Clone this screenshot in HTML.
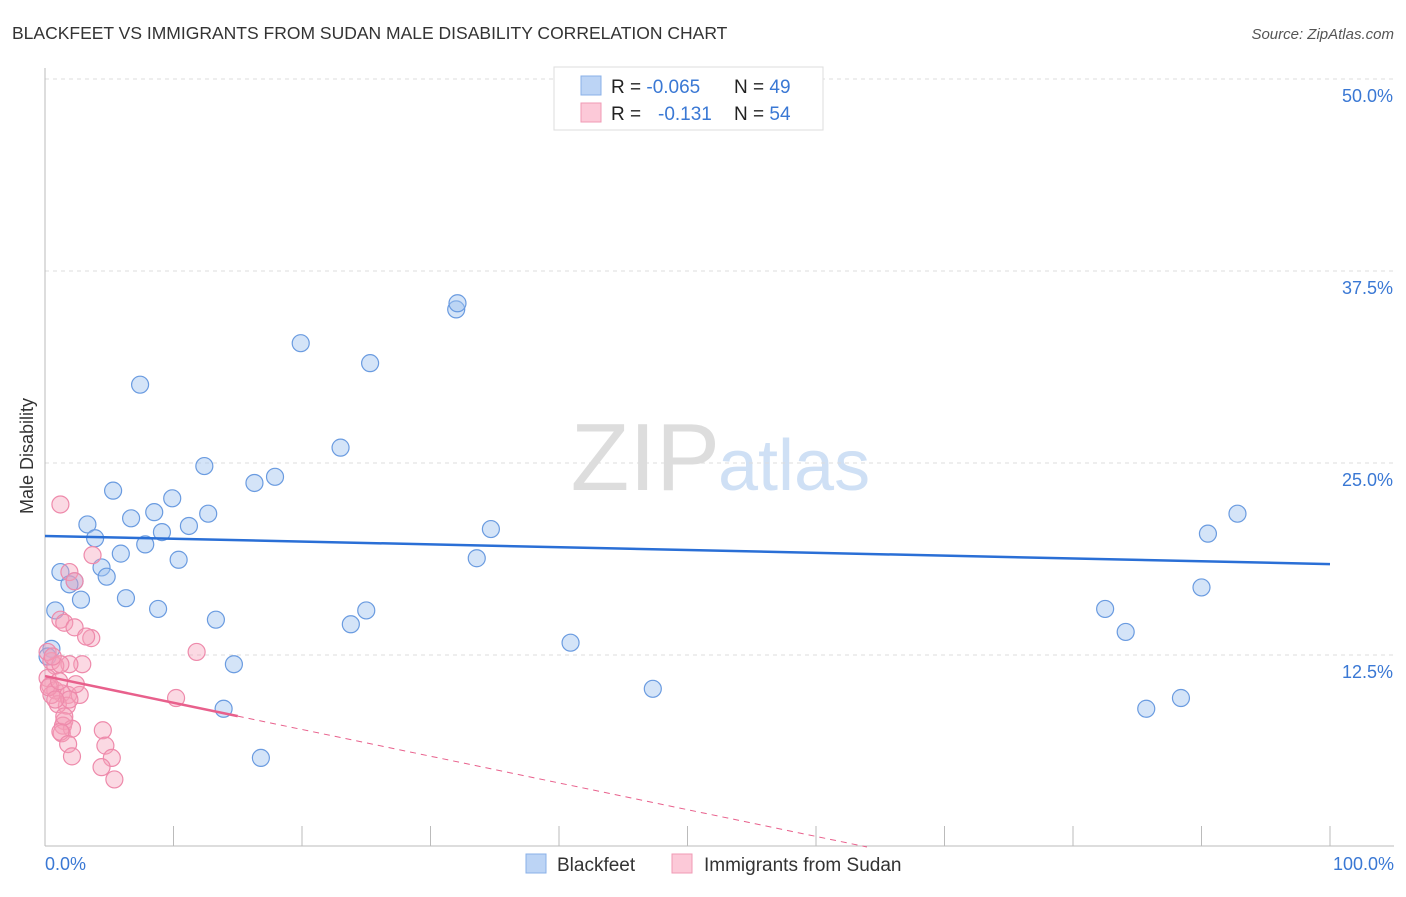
<!DOCTYPE html>
<html><head><meta charset="utf-8"><style>
body{margin:0;background:#fff;font-family:"Liberation Sans",sans-serif;}
svg text{font-family:"Liberation Sans",sans-serif;}
</style></head><body>
<svg width="1406" height="892" xmlns="http://www.w3.org/2000/svg">
<text x="12" y="39" font-size="17.5" fill="#333">BLACKFEET VS IMMIGRANTS FROM SUDAN MALE DISABILITY CORRELATION CHART</text>
<text x="1394" y="39" font-size="15" fill="#555" font-style="italic" text-anchor="end">Source: ZipAtlas.com</text>
<text x="33" y="456" font-size="18" fill="#333" text-anchor="middle" transform="rotate(-90 33 456)">Male Disability</text>
<text x="720" y="490" font-size="96" fill="#ddd" text-anchor="end" font-family="Liberation Serif">ZIP</text>
<text x="718" y="490" font-size="72" fill="#cfe0f5">atlas</text>
<g id="grid"></g><g id="axes"></g><g id="pts"></g><g id="lines"></g>
<g>
<rect x="554" y="67" width="269" height="63" fill="#fff" stroke="#ddd"/>
<rect x="581" y="76" width="20" height="19" fill="#bcd4f5" stroke="#8ab0e8"/>
<rect x="581" y="103" width="20" height="19" fill="#fcc9d8" stroke="#f09ab5"/>
<text x="611" y="93" font-size="19" fill="#222">R = <tspan fill="#3a78d4">-0.065</tspan></text>
<text x="734" y="93" font-size="19" fill="#222">N = <tspan fill="#3a78d4">49</tspan></text>
<text x="611" y="120" font-size="19" fill="#222">R = <tspan x="658" fill="#3a78d4">-0.131</tspan></text>
<text x="734" y="120" font-size="19" fill="#222">N = <tspan fill="#3a78d4">54</tspan></text>
</g>
<g>
<rect x="526" y="854" width="20" height="19" fill="#bcd4f5" stroke="#8ab0e8"/>
<text x="557" y="871" font-size="19" fill="#333">Blackfeet</text>
<rect x="672" y="854" width="20" height="19" fill="#fcc9d8" stroke="#f09ab5"/>
<text x="704" y="871" font-size="19" fill="#333">Immigrants from Sudan</text>
</g>
</svg>
<script>
const yTicks=[12.5,25,37.5,50];
const yTickLabels=["12.5%","25.0%","37.5%","50.0%"];
const blackX=[7.4,19.9,25.3,32,32.1,23,12.4,17.9,16.3,5.3,9.9,8.5,12.7,6.7,3.3,11.2,9.1,3.9,7.8,5.9,10.4,4.4,1.2,4.8,2.3,1.9,2.8,6.3,0.8,8.8,13.3,25,23.8,14.7,13.9,16.8,34.7,33.6,40.9,47.3,92.8,90.5,90,82.5,84.1,85.7,88.4,50.0,0.5,0.2];
const blackY=[30.1,32.8,31.5,35,35.4,26,24.8,24.1,23.7,23.2,22.7,21.8,21.7,21.4,21,20.9,20.5,20.1,19.7,19.1,18.7,18.2,17.9,17.6,17.3,17.1,16.1,16.2,15.4,15.5,14.8,15.4,14.5,11.9,9,5.8,20.7,18.8,13.3,10.3,21.7,20.4,16.9,15.5,14,9,9.7,50.1,12.9,12.4];
const sudanX=[1.2,3.7,1.9,2.3,1.2,1.5,2.3,3.6,3.2,11.8,2.9,1.9,0.5,0.8,0.2,0.4,0.8,1.3,1.8,2.7,1.7,1,0.5,1.5,1.4,2.1,1.3,1.2,1.8,2.1,4.5,4.7,5.2,4.4,5.4,10.2,1.9,0.3,0.8,1.2,0.2,0.6,1.1,2.4,1.5];
const sudanY=[22.3,19,17.9,17.3,14.8,14.6,14.3,13.6,13.7,12.7,11.9,11.9,12.1,11.8,11,10.5,10.2,10,9.9,9.9,9.2,9.3,9.9,8.2,7.9,7.7,7.4,7.5,6.7,5.9,7.6,6.6,5.8,5.2,4.4,9.7,9.6,10.4,9.6,11.9,12.7,12.4,10.8,10.6,8.5];
const blackTrend=[20.25,18.42];
const sudanTrend=[11.13,-0.174];
const NS="http://www.w3.org/2000/svg";
const X=v=>45+v*12.85, Y=v=>847-v*15.36;
function mk(t,a,p){const e=document.createElementNS(NS,t);for(const k in a)e.setAttribute(k,a[k]);document.getElementById(p).appendChild(e);return e;}
yTicks.forEach((t,i)=>{
 const g=mk('line',{x1:45,x2:1394,y1:Y(t),y2:Y(t),stroke:'#ddd','stroke-dasharray':'4,4'},'grid');
 
 
 const l=mk('text',{x:1393,y:Y(t)+23,'font-size':18,fill:'#3a78d4','text-anchor':'end'},'axes');l.textContent=yTickLabels[i];
 
 
});
let a=mk('line',{x1:45,x2:45,y1:68,y2:846,stroke:'#bbb'},'axes');


a=mk('line',{x1:45,x2:1394,y1:846,y2:846,stroke:'#bbb'},'axes');


for(let i=1;i<=10;i++){const t=mk('line',{x1:45+i*128.5,x2:45+i*128.5,y1:826,y2:846,stroke:'#bbb'},'axes');
 
 }
let t=mk('text',{x:45,y:870,'font-size':18,fill:'#3a78d4'},'axes');t.textContent='0.0%';


t=mk('text',{x:1394,y:870,'font-size':18,fill:'#3a78d4','text-anchor':'end'},'axes');t.textContent='100.0%';


blackX.forEach((x,i)=>{const c=mk('circle',{cx:X(x),cy:Y(blackY[i]),r:8.5,fill:'rgba(160,195,240,0.45)',stroke:'#6a9be0','stroke-width':1.2},'pts');
 
 });
sudanX.forEach((x,i)=>{const c=mk('circle',{cx:X(x),cy:Y(sudanY[i]),r:8.5,fill:'rgba(245,160,185,0.4)',stroke:'#ee8aab','stroke-width':1.2},'pts');
 
 });
let ln=mk('line',{x1:X(0),y1:Y(blackTrend[0]),x2:X(100),y2:Y(blackTrend[1]),stroke:'#2a6fd6','stroke-width':2.5},'lines');


const sy=x=>sudanTrend[0]+sudanTrend[1]*x;
ln=mk('line',{x1:X(0),y1:Y(sy(0)),x2:X(15),y2:Y(sy(15)),stroke:'#e8608c','stroke-width':2.5},'lines');


const xe=-sudanTrend[0]/sudanTrend[1];
ln=mk('line',{x1:X(15),y1:Y(sy(15)),x2:X(xe),y2:Y(0),stroke:'#e8608c','stroke-width':1,'stroke-dasharray':'6,5'},'lines');


</script>
</body></html>
